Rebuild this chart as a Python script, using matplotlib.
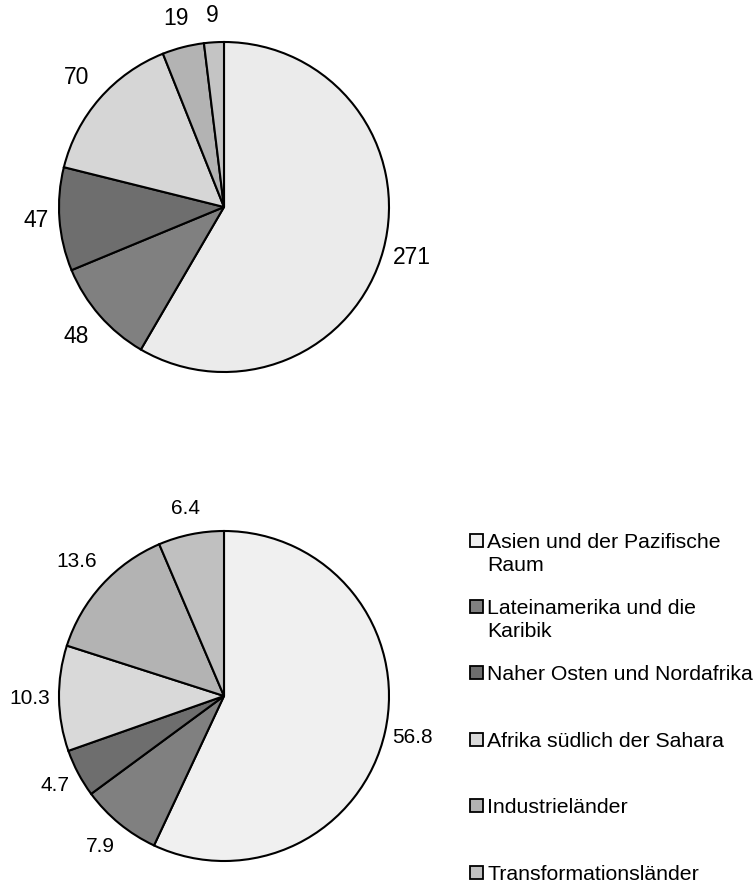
import numpy as np
import matplotlib
matplotlib.use("Agg")
import matplotlib.pyplot as plt
from matplotlib.patches import Rectangle

plt.rcParams['font.family'] = ['Liberation Sans', 'DejaVu Sans']

# Daten
regionen = ['Asien und der Pazifische\nRaum', 'Lateinamerika und die\nKaribik',
            'Naher Osten und Nordafrika', 'Afrika südlich der Sahara',
            'Industrieländer', 'Transformationsländer']
werte_oben = [271, 48, 47, 70, 19, 9]
werte_unten = [56.8, 7.9, 4.7, 10.3, 13.6, 6.4]
farben_oben = ['#ebebeb', '#808080', '#6e6e6e', '#d6d6d6', '#b3b3b3', '#c4c4c4']
farben_unten = ['#f0f0f0', '#808080', '#6e6e6e', '#d9d9d9', '#b3b3b3', '#c0c0c0']

W, H = 756, 884
fig = plt.figure(figsize=(W / 100, H / 100), dpi=100)

R = 165       # Radius in Pixel
LIM = 1.3


def pie_axes(cx, cy):
    half = R * LIM
    rect = [(cx - half) / W, (H - cy - half) / H, 2 * half / W, 2 * half / H]
    return fig.add_axes(rect)


def zeichne_pie(ax, werte, farben, fmt, fs, abstaende):
    wedges, _ = ax.pie(werte, colors=farben, startangle=90, counterclock=False,
                       wedgeprops=dict(edgecolor='black', linewidth=1.5))
    for w, v, d in zip(wedges, werte, abstaende):
        ang = np.deg2rad((w.theta1 + w.theta2) / 2)
        ax.text(d * np.cos(ang), d * np.sin(ang), fmt.format(v),
                ha='center', va='center', fontsize=fs)
    ax.set_xlim(-LIM, LIM)
    ax.set_ylim(-LIM, LIM)
    ax.set_aspect('equal')
    ax.axis('off')


ax1 = pie_axes(224, 207)
zeichne_pie(ax1, werte_oben, farben_oben, '{:d}', 16.5,
            [1.18, 1.19, 1.14, 1.19, 1.18, 1.16])

ax2 = pie_axes(224, 696)
zeichne_pie(ax2, werte_unten, farben_unten, '{:.1f}', 15,
            [1.17, 1.18, 1.16, 1.18, 1.21, 1.16])

# Legende (manuell, Kästchen an der ersten Zeile)
y0, dy = 540, 66.4
for i, (lab, col) in enumerate(zip(regionen, farben_unten)):
    y = y0 + i * dy
    fig.patches.append(Rectangle((470 / W, (H - y - 6.5) / H), 13 / W, 13 / H,
                                 transform=fig.transFigure, facecolor=col,
                                 edgecolor='black', linewidth=1.3))
    for j, zeile in enumerate(lab.split('\n')):
        fig.text(487 / W, (H - y - 7.5 - j * 23.5) / H, zeile, ha='left',
                 va='baseline', fontsize=15.3)

fig.savefig('out.png', dpi=100)
